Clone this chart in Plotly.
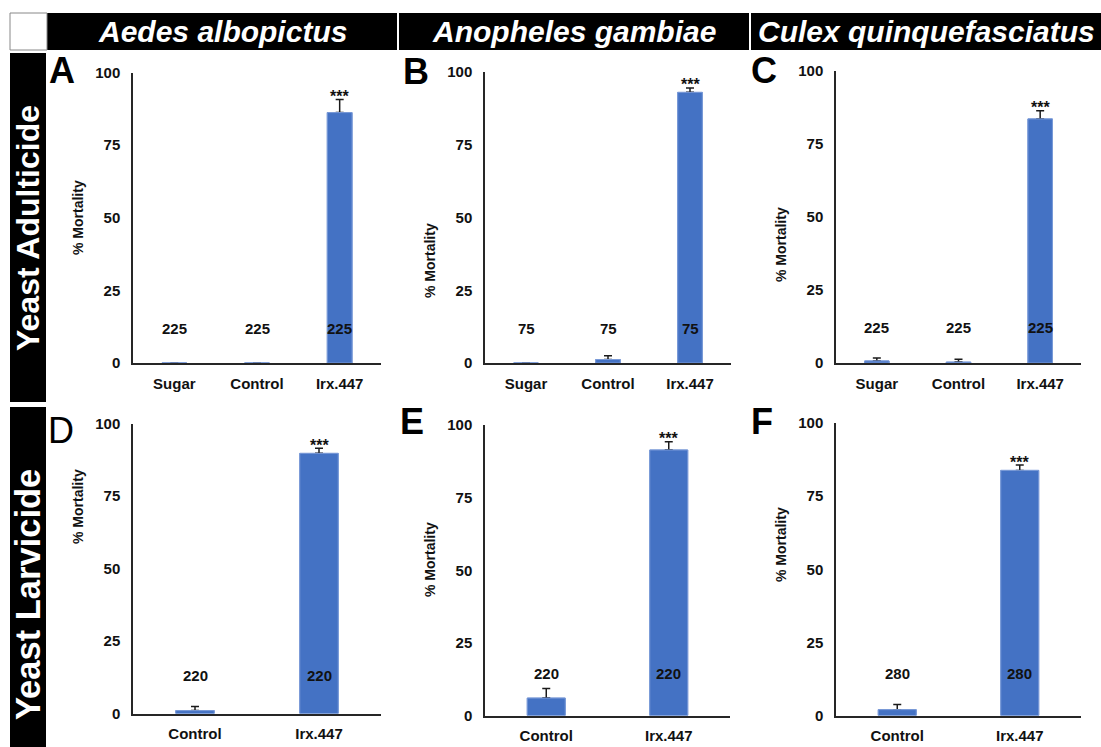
import plotly.graph_objects as go

W, H = 1101, 747
FONT = "Liberation Sans, Arial, sans-serif"

# ---------------- data ----------------
species = ["Aedes albopictus", "Anopheles gambiae", "Culex quinquefasciatus"]
row_titles = ["Yeast Adulticide", "Yeast Larvicide"]
panel_letters = ["A", "B", "C", "D", "E", "F"]

cats_adult = ["Sugar", "Control", "Irx.447"]
cats_larva = ["Control", "Irx.447"]

mort_A = [0.0, 0.0, 86.2]
err_A = [0.0, 0.0, 4.5]
n_A = [225, 225, 225]

mort_B = [0.0, 1.2, 93.0]
err_B = [0.0, 1.3, 1.5]
n_B = [75, 75, 75]

mort_C = [0.7, 0.3, 83.6]
err_C = [1.0, 1.0, 2.8]
n_C = [225, 225, 225]

mort_D = [1.0, 89.7]
err_D = [1.4, 1.8]
n_D = [220, 220]

mort_E = [6.0, 91.4]
err_E = [3.3, 2.8]
n_E = [220, 220]

mort_F = [2.0, 83.8]
err_F = [1.8, 1.8]
n_F = [280, 280]

sig_adult = ["", "", "***"]
sig_larva = ["", "***"]

y_ticks = [0, 25, 50, 75, 100]

panels = [
    (cats_adult, mort_A, err_A, n_A, sig_adult),
    (cats_adult, mort_B, err_B, n_B, sig_adult),
    (cats_adult, mort_C, err_C, n_C, sig_adult),
    (cats_larva, mort_D, err_D, n_D, sig_larva),
    (cats_larva, mort_E, err_E, n_E, sig_larva),
    (cats_larva, mort_F, err_F, n_F, sig_larva),
]

# ---------------- layout geometry (pixels) ----------------
# x0, x1, ytop(100), ybottom(0)
geom = [
    (133, 381, 72.5, 363),
    (485, 731, 72, 363),
    (836, 1081, 71, 363),
    (133, 381, 423.5, 713.5),
    (485, 730, 425, 715.5),
    (836, 1081, 423, 715.5),
]
letter_pos = [(62, 71), (416, 72), (764, 71), (61, 431), (412, 421), (762, 421)]
letter_weight = ["bold", "bold", "bold", "normal", "bold", "bold"]
ylabel_pos = [(78, 218), (430, 261), (781, 245), (78, 507), (430, 560), (781, 545)]
nlabel_y = [12, 12, 12, 13, 14.5, 14.5]
bar_w = [0.3, 0.3, 0.3, 0.31, 0.31, 0.31]


def px(x):
    return x / W


def py(y):
    return 1 - y / H


fig = go.Figure()
annotations = []
shapes = []

BLUE = "#4472C4"
EDGE = "#7b9bd8"
AXC = "#262626"

for i, (cats, vals, errs, ns, sigs) in enumerate(panels):
    k = "" if i == 0 else str(i + 1)
    x0, x1, yt, yb = geom[i]
    # bars carrying the (upper) error bars
    fig.add_trace(go.Bar(
        x=cats, y=vals, width=bar_w[i],
        marker=dict(color=BLUE, line=dict(color=EDGE, width=1)),
        error_y=dict(type="data", array=errs, arrayminus=[0] * len(errs),
                     symmetric=False, color="#1a1a1a", thickness=1.5, width=4),
        xaxis="x" + k, yaxis="y" + k, showlegend=False, hoverinfo="skip",
    ))
    # same bars drawn on top (hide the lower error-bar cap on the bar top)
    fig.add_trace(go.Bar(
        x=cats, y=vals, width=bar_w[i],
        marker=dict(color=BLUE, line=dict(color=EDGE, width=1)),
        xaxis="x" + k, yaxis="y" + k, showlegend=False, hoverinfo="x+y",
    ))
    fig.layout["xaxis" + k] = dict(
        domain=[px(x0), px(x1)], anchor="y" + k, type="category",
        range=[-0.5, len(cats) - 0.5], showline=True, linecolor=AXC, linewidth=1.5,
        ticks="", showgrid=False, zeroline=False, ticklabelstandoff=6,
        automargin=False,
        tickfont=dict(family=FONT, size=15, color="#111", weight="bold"),
        fixedrange=True,
    )
    fig.layout["yaxis" + k] = dict(
        domain=[py(yb), py(yt)], anchor="x" + k, range=[0, 100],
        tickvals=y_ticks, showline=True, linecolor=AXC, linewidth=1.5,
        ticks="", showgrid=False, zeroline=False, ticklabelstandoff=8,
        automargin=False,
        tickfont=dict(family=FONT, size=15, color="#111", weight="bold"),
        fixedrange=True,
    )
    # N labels
    for c, n in zip(cats, ns):
        annotations.append(dict(
            x=c, y=nlabel_y[i], xref="x" + k, yref="y" + k, text=str(n),
            showarrow=False, xanchor="center", yanchor="middle",
            font=dict(family=FONT, size=15, color="#111", weight="bold"),
        ))
    # significance
    for c, v, e, s in zip(cats, vals, errs, sigs):
        if s:
            annotations.append(dict(
                x=c, y=v + e, xref="x" + k, yref="y" + k, text=s,
                showarrow=False, xanchor="center", yanchor="middle", yshift=3,
                font=dict(family=FONT, size=16, color="#111", weight="bold"),
            ))
    # panel letter
    lx, ly = letter_pos[i]
    annotations.append(dict(
        x=px(lx), y=py(ly), xref="paper", yref="paper", text=panel_letters[i],
        showarrow=False, xanchor="center", yanchor="middle",
        font=dict(family=FONT, size=36, color="#000", weight=letter_weight[i]),
    ))
    # y-axis title
    tx, ty = ylabel_pos[i]
    annotations.append(dict(
        x=px(tx), y=py(ty), xref="paper", yref="paper", text="% Mortality",
        showarrow=False, xanchor="center", yanchor="middle", textangle=-90,
        font=dict(family=FONT, size=14, color="#111", weight="bold"),
    ))

# header bars
hdr = [(47, 397), (399, 749), (751, 1101)]
for (a, b), name in zip(hdr, species):
    shapes.append(dict(type="rect", xref="paper", yref="paper",
                       x0=px(a), x1=px(b), y0=py(50), y1=py(13),
                       fillcolor="#000", line=dict(width=0), layer="below"))
    annotations.append(dict(
        x=px((a + b) / 2), y=py(31.5), xref="paper", yref="paper", text=name,
        showarrow=False, xanchor="center", yanchor="middle",
        font=dict(family=FONT, size=30, color="#fff", weight="bold", style="italic"),
    ))
shapes.append(dict(type="rect", xref="paper", yref="paper",
                   x0=px(10), x1=px(47), y0=py(50), y1=py(13),
                   fillcolor="#fff", line=dict(color="#888", width=1)))

# row title bars
row_rects = [(53, 402), (407, 747)]
row_text_y = [228, 595]
row_text_size = [32, 34.5]
for (a, b), name, ty, fs in zip(row_rects, row_titles, row_text_y, row_text_size):
    shapes.append(dict(type="rect", xref="paper", yref="paper",
                       x0=px(10), x1=px(46), y0=py(b), y1=py(a),
                       fillcolor="#000", line=dict(width=0), layer="below"))
    annotations.append(dict(
        x=px(28), y=py(ty), xref="paper", yref="paper", text=name,
        showarrow=False, xanchor="center", yanchor="middle", textangle=-90,
        font=dict(family=FONT, size=fs, color="#fff", weight="bold"),
    ))

fig.update_layout(
    width=W, height=H, margin=dict(l=0, r=0, t=0, b=0, autoexpand=False),
    paper_bgcolor="#fff", plot_bgcolor="rgba(0,0,0,0)",
    annotations=annotations, shapes=shapes, barmode="overlay",
    font=dict(family=FONT),
)

fig.write_html("out.html", config={"displayModeBar": False},
               post_script="document.body.style.margin='0px';")
